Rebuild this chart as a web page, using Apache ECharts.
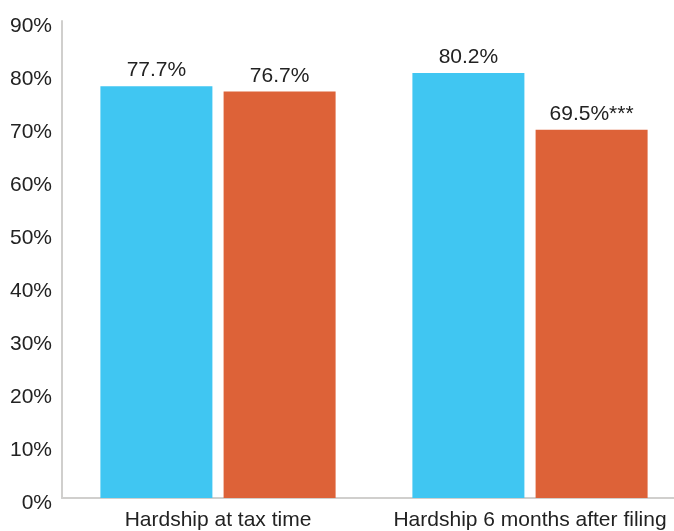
<!DOCTYPE html>
<html><head><meta charset="utf-8">
<script src="https://cdn.jsdelivr.net/npm/echarts@6/dist/echarts.min.js"></script>
<style>html,body{margin:0;padding:0;background:#fff}#c{width:674px;height:531px}</style>
</head><body><div id="c"></div>
<script>
const categories = ['Hardship at tax time', 'Hardship 6 months after filing'];
const seriesA = [77.7, 80.2];
const seriesB = [76.7, 69.5];
const labelsA = ['77.7%', '80.2%'];
const labelsB = ['76.7%', '69.5%***'];

const chart = echarts.init(document.getElementById('c'));
const font = 'Arial, "Liberation Sans", sans-serif';
chart.setOption({
  animation: false,
  grid: {left: 62, width: 624, top: 21, bottom: 33, containLabel: false, outerBoundsMode: 'none'},
  xAxis: {
    type: 'category', data: categories,
    axisLine: {lineStyle: {color: '#d0cfcd', width: 2}},
    axisTick: {show: false},
    axisLabel: {color: '#222', fontSize: 21, fontFamily: font, margin: 12, interval: 0, hideOverlap: false}
  },
  yAxis: {
    type: 'value', min: 0, max: 90, interval: 10,
    axisLine: {show: true, lineStyle: {color: '#d0cfcd', width: 2}},
    axisTick: {show: false},
    splitLine: {show: false},
    axisLabel: {color: '#222', fontSize: 21, fontFamily: font, margin: 10,
      formatter: '{a|{value}%}',
      rich: {a: {fontSize: 21, fontFamily: font, color: '#222', lineHeight: 21, padding: [10, 0, 0, 0]}}}
  },
  series: [
    {type: 'bar', data: seriesA, barWidth: 112, barGap: '10%',
     itemStyle: {color: '#40C6F2'},
     label: {show: true, position: 'top', distance: 5, color: '#222', fontSize: 21, fontFamily: font,
       formatter: p => labelsA[p.dataIndex]}},
    {type: 'bar', data: seriesB, barWidth: 112,
     itemStyle: {color: '#DD6238'},
     label: {show: true, position: 'top', distance: 5, color: '#222', fontSize: 21, fontFamily: font,
       formatter: p => labelsB[p.dataIndex]}}
  ]
});
</script></body></html>
